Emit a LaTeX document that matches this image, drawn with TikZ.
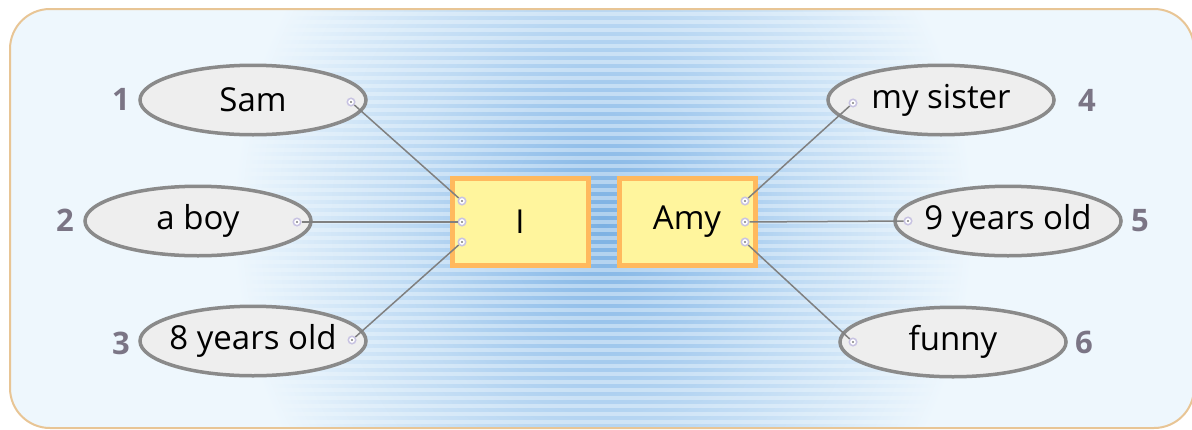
\documentclass[tikz,border=0pt]{standalone}
\usepackage{fontspec}
\setmainfont{Open Sans}
\usepackage{tikz}
\usetikzlibrary{shapes,positioning}

\definecolor{bgblue}{HTML}{EEF7FD}
\definecolor{frame}{HTML}{E8C595}
\definecolor{glowa}{HTML}{BCD9F3}
\definecolor{glowb}{HTML}{9AC4EC}
\definecolor{glowc}{HTML}{7BB0E2}
\definecolor{ovalfill}{HTML}{EEEEEE}
\definecolor{ovaldraw}{HTML}{8A8A8A}
\definecolor{boxfill}{HTML}{FFF59D}
\definecolor{boxdraw}{HTML}{FFB95E}
\definecolor{portring}{HTML}{C8C3E2}
\definecolor{numgray}{HTML}{7B7585}
\definecolor{linkgray}{HTML}{808080}
\pgfdeclareradialshading{glow}{\pgfpointorigin}{color(0bp)=(glowc); color(6bp)=(glowb); color(13bp)=(glowa); color(25bp)=(bgblue); color(50bp)=(bgblue)}

\begin{document}
\begin{tikzpicture}[x=0.5pt, y=-0.5pt,
    oval/.style={ellipse, draw=ovaldraw, fill=ovalfill, line width=1.75pt, inner xsep=-3pt, inner ysep=0pt, minimum width=113pt, minimum height=34.75pt, font=\fontsize{16.5}{20}\selectfont},
    core/.style={draw=boxdraw, fill=boxfill, line width=2.5pt, minimum width=68pt, minimum height=43.5pt, font=\fontsize{16.5}{20}\selectfont},
    port/.style={circle, draw=portring, fill=white, line width=0.75pt, minimum size=3.75pt, inner sep=0pt, path picture={\fill[linkgray] (path picture bounding box.center) circle (0.6pt);}},
    num/.style={text=numgray, font=\bfseries\fontsize{15.5}{18}\selectfont},
    link/.style={draw=linkgray, line width=0.75pt}]
    \useasboundingbox (0,0) rectangle (1192,429);
    % background
    \path[fill=bgblue, rounded corners=20pt] (10,9) rectangle (1194,428);
    \begin{scope}
        \clip[rounded corners=20pt] (10,9) rectangle (1194,428);
        \shade[shading=glow] (233,-200) rectangle (973,644);
        \foreach \y in {12,20,...,428}
            \shade[left color=bgblue, middle color=white, right color=bgblue, opacity=0.45] (233,\y) rectangle (973,\y+3.5);
    \end{scope}
    \draw[frame, line width=1pt, rounded corners=20pt] (10,9) rectangle (1194,428);

    % center boxes
    \node[core] (me) at (520,222) {I};
    \node[core] (amy) at (687,222) {Amy};

    % ovals
    \node[oval] (sam) at (253,100) {Sam};
    \node[oval] (boy) at (198,221) {a boy};
    \node[oval] (age) at (253,341) {8 years old};
    \node[oval] (sister) at (941,100) {my sister};
    \node[oval] (nine) at (1008,221) {9 years old};
    \node[oval] (funny) at (953,342) {funny};

    % numbers
    \node[num] (n1) at (121,99) {1};
    \node[num] (n2) at (65,220) {2};
    \node[num] (n3) at (121,343) {3};
    \node[num] (n4) at (1087,100) {4};
    \node[num] (n5) at (1140,221) {5};
    \node[num] (n6) at (1084,342) {6};

    % ports
    \node[port] (samp) at (351,102) {};
    \node[port] (boyp) at (297,222) {};
    \node[port] (agep) at (352,340) {};
    \node[port] (sisterp) at (853,103) {};
    \node[port] (ninep) at (908,221) {};
    \node[port] (funnyp) at (853,342) {};
    \node[port] (me1) at (462,201) {};
    \node[port] (me2) at (462,222) {};
    \node[port] (me3) at (462,242) {};
    \node[port] (amy1) at (745,201) {};
    \node[port] (amy2) at (745,222) {};
    \node[port] (amy3) at (745,242) {};

    \draw[link] (samp) -- (me1);
    \draw[link] (boyp) -- (me2);
    \draw[link] (agep) -- (me3);
    \draw[link] (amy1) -- (sisterp);
    \draw[link] (amy2) -- (ninep);
    \draw[link] (amy3) -- (funnyp);
\end{tikzpicture}
\end{document}
